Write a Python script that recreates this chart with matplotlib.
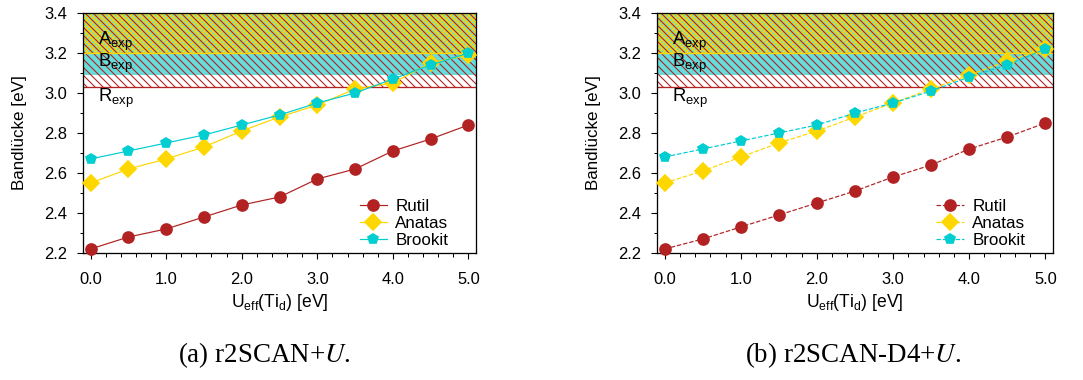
import matplotlib
matplotlib.use("Agg")
import matplotlib.pyplot as plt
from matplotlib.ticker import MultipleLocator, FormatStrFormatter

DPI = 120
def pt(px):
    return px * 72.0 / DPI

plt.rcParams['font.family'] = ['Liberation Sans', 'DejaVu Sans']
plt.rcParams['mathtext.fontset'] = 'custom'
plt.rcParams['mathtext.rm'] = 'Liberation Sans'
plt.rcParams['mathtext.it'] = 'Liberation Sans:italic'
plt.rcParams['hatch.linewidth'] = pt(1.1)

BS = chr(92)

# ---- data ----
u_eff = [0.0, 0.5, 1.0, 1.5, 2.0, 2.5, 3.0, 3.5, 4.0, 4.5, 5.0]

rutil_a   = [2.22, 2.28, 2.32, 2.38, 2.44, 2.48, 2.57, 2.62, 2.71, 2.77, 2.84]
anatas_a  = [2.55, 2.62, 2.67, 2.73, 2.81, 2.88, 2.94, 3.02, 3.05, 3.15, 3.19]
brookit_a = [2.67, 2.71, 2.75, 2.79, 2.84, 2.89, 2.95, 3.00, 3.07, 3.14, 3.20]

rutil_b   = [2.22, 2.27, 2.33, 2.39, 2.45, 2.51, 2.58, 2.64, 2.72, 2.78, 2.85]
anatas_b  = [2.55, 2.61, 2.68, 2.75, 2.81, 2.88, 2.95, 3.02, 3.09, 3.16, 3.22]
brookit_b = [2.68, 2.72, 2.76, 2.80, 2.84, 2.90, 2.95, 3.01, 3.08, 3.14, 3.22]

exp_rutil = 3.03
exp_brookit = 3.09
exp_anatas = 3.20
y_top = 3.4

series_names = ['Rutil', 'Anatas', 'Brookit']
colors = ['#b22222', '#ffd700', '#00ced1']
markers = ['o', 'D', 'p']
msizes = [pt(11), pt(11), pt(11)]

captions = ['(a) r2SCAN+$\\mathit{U}$.', '(b) r2SCAN-D4+$\\mathit{U}$.']

fig = plt.figure(figsize=(1083 / DPI, 380 / DPI), dpi=DPI)
ax1 = fig.add_axes([83 / 1083, 1 - 253 / 380, 393 / 1083, 240 / 380])
ax2 = fig.add_axes([657 / 1083, 1 - 253 / 380, 396 / 1083, 240 / 380])

def draw(ax, data, ls):
    # experimental bands
    ax.axhspan(exp_brookit, y_top, facecolor='#66dddd', edgecolor='none', zorder=0.5)
    ax.axhspan(exp_anatas, y_top, facecolor='none', edgecolor='#ffd700', linewidth=0,
               hatch='x' * 9, zorder=0.6)
    ax.axhspan(exp_rutil, y_top, facecolor='none', edgecolor='#b22222', linewidth=0,
               hatch=BS * 5, zorder=0.7)
    ax.axhline(exp_rutil, color='#b22222', lw=pt(1.3), zorder=0.8)
    ax.axhline(exp_anatas, color='#ffd700', lw=pt(1.3), zorder=0.8)
    ax.text(0.1, 3.26, 'A$_{\\rm exp}$', fontsize=pt(18.5), va='center', ha='left', zorder=1)
    ax.text(0.1, 3.148, 'B$_{\\rm exp}$', fontsize=pt(18.5), va='center', ha='left', zorder=1)
    ax.text(0.1, 2.975, 'R$_{\\rm exp}$', fontsize=pt(18.5), va='center', ha='left', zorder=1)

    for name, vals, c, m, ms in zip(series_names, data, colors, markers, msizes):
        ax.plot(u_eff, vals, color=c, marker=m, markersize=ms, ls=ls, lw=pt(1.2),
                label=name, zorder=3, clip_on=False)

    ax.set_xlim(-0.1, 5.1)
    ax.set_ylim(2.2, 3.4)
    ax.xaxis.set_major_locator(MultipleLocator(1.0))
    ax.xaxis.set_minor_locator(MultipleLocator(0.2))
    ax.yaxis.set_major_locator(MultipleLocator(0.2))
    ax.yaxis.set_minor_locator(MultipleLocator(0.1))
    ax.xaxis.set_major_formatter(FormatStrFormatter('%.1f'))
    ax.yaxis.set_major_formatter(FormatStrFormatter('%.1f'))
    ax.tick_params(which='major', direction='out', length=pt(6), width=pt(1.1),
                   labelsize=pt(16.5))
    ax.tick_params(which='minor', direction='out', length=pt(3.5), width=pt(1.0))
    ax.tick_params(axis='x', which='major', pad=pt(13))
    ax.tick_params(axis='y', which='major', pad=pt(10))
    for s in ax.spines.values():
        s.set_linewidth(pt(1.3))
    ax.set_xlabel('U$_{\\rm eff}$(Ti$_{\\rm d}$) [eV]', fontsize=pt(17.5), labelpad=pt(5))
    ax.set_ylabel('Bandlücke [eV]', fontsize=pt(17), labelpad=pt(17))
    ax.legend(loc='lower right', bbox_to_anchor=(0.96, -0.03), frameon=False,
              fontsize=pt(17), handlelength=1.6, handletextpad=0.5, labelspacing=0.12,
              borderaxespad=0.3)

draw(ax1, [rutil_a, anatas_a, brookit_a], '-')
draw(ax2, [rutil_b, anatas_b, brookit_b], '--')

fig.text(264 / 1083, 1 - 355 / 380, captions[0], fontsize=pt(27), ha='center', va='center',
         family='Liberation Serif', math_fontfamily='stix')
fig.text(853 / 1083, 1 - 355 / 380, captions[1], fontsize=pt(27), ha='center', va='center',
         family='Liberation Serif', math_fontfamily='stix')

fig.savefig('out.png', dpi=DPI)
